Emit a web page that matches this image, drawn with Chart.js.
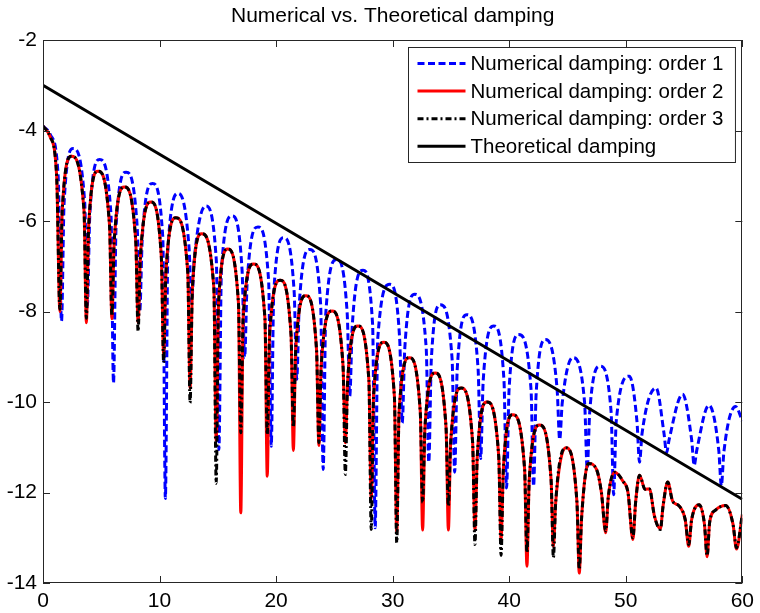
<!DOCTYPE html>
<html>
<head>
<meta charset="utf-8">
<title>Numerical vs. Theoretical damping</title>
<script src="https://cdn.jsdelivr.net/npm/chart.js@4.4.1/dist/chart.umd.min.js"></script>
<style>
  html, body { margin: 0; padding: 0; background: #fff; }
  #wrap { width: 760px; height: 613px; }
</style>
</head>
<body>
<div id="wrap"><canvas id="dampingChart" width="760" height="613"></canvas></div>
<script>
const chartTitle = 'Numerical vs. Theoretical damping';

const xTicks = [0, 10, 20, 30, 40, 50, 60];
const yTicks = [-14, -12, -10, -8, -6, -4, -2];

// order 1 (blue dashed): peak, knee, cusp, knee, peak ...
const order1X = [0, 0.65, 1.30, 1.59, 1.81, 2.59,
  3.58, 3.80, 4.02, 4.86, 5.83, 6.05, 6.27, 7.13, 8.08, 8.30, 8.52, 9.40,
  10.28, 10.50, 10.72, 11.62, 12.53, 12.75, 12.97, 13.95, 14.87, 15.09, 15.31, 16.22,
  17.08, 17.30, 17.52, 18.44, 19.36, 19.58, 19.80, 20.65, 21.55, 21.77, 21.99, 22.90,
  23.82, 24.04, 24.26, 25.20, 26.10, 26.32, 26.54, 27.45, 28.28, 28.50, 28.72, 29.75,
  30.60, 30.82, 31.04, 31.90, 32.88, 33.10, 33.32, 34.10, 35.10, 35.32, 35.54, 36.37,
  37.33, 37.55, 37.77, 38.68, 39.55, 39.77, 39.99, 40.81, 41.87, 42.09, 42.31, 43.12,
  44.11, 44.33, 44.55, 45.45, 46.47, 46.69, 46.91, 47.80, 48.74, 48.96, 49.18, 50.30,
  50.96, 51.18, 51.40, 52.60, 53.28, 53.50, 53.72, 54.87, 55.65, 55.87, 56.09, 57.14,
  57.98, 58.20, 58.42, 59.42, 60];
const order1Y = [-3.90, -4.10, -5.00, -8.21, -5.60, -4.40,
  -5.60, -7.90, -5.84, -4.64, -5.84, -9.58, -6.12, -4.92, -6.12, -8.00, -6.37, -5.17,
  -6.37, -12.13, -6.59, -5.39, -6.59, -7.80, -6.87, -5.67, -6.87, -11.05, -7.09, -5.89,
  -7.09, -9.02, -7.33, -6.13, -7.33, -10.98, -7.57, -6.37, -7.57, -9.50, -7.83, -6.63,
  -7.83, -11.49, -8.05, -6.85, -8.05, -9.87, -8.29, -7.09, -8.29, -12.78, -8.60, -7.40,
  -8.60, -10.46, -8.82, -7.62, -8.82, -11.33, -9.05, -7.85, -9.05, -11.55, -9.27, -8.07,
  -9.27, -11.25, -9.52, -8.32, -9.52, -11.90, -9.71, -8.51, -9.71, -11.86, -9.82, -8.62,
  -9.72, -10.83, -10.02, -9.02, -10.02, -11.48, -10.21, -9.21, -10.21, -12.05, -10.43, -9.43,
  -10.43, -11.33, -10.69, -9.69, -10.69, -11.12, -10.83, -9.83, -10.83, -11.40, -11.07, -10.07,
  -11.07, -11.85, -11.10, -10.10, -10.42];

// orders 2 and 3 share the same abscissae (they overlap except at the cusps)
const order23X = [0, 0.60, 1.17, 1.45, 1.65, 2.44,
  3.52, 3.72, 3.92, 4.72, 5.71, 5.91, 6.11, 6.99, 7.96, 8.16, 8.36, 9.26,
  10.15, 10.35, 10.55, 11.40, 12.42, 12.62, 12.82, 13.61, 14.66, 14.86, 15.06, 15.85,
  16.77, 16.97, 17.17, 18.07, 19.04, 19.24, 19.44, 20.35, 21.28, 21.48, 21.68, 22.55,
  23.47, 23.67, 23.87, 24.80, 25.74, 25.94, 26.14, 27.02, 27.96, 28.16, 28.36, 29.24,
  30.15, 30.35, 30.55, 31.43, 32.37, 32.57, 32.77, 33.65, 34.58, 34.78, 34.98, 35.88,
  36.86, 37.06, 37.26, 38.10, 39.10, 39.30, 39.50, 40.30, 41.32, 41.52, 41.72, 42.60,
  43.59, 43.79, 43.99, 44.85, 45.81, 46.01, 46.21, 46.80,
  47.49, 47.91, 48.28, 48.50, 49.05, 49.76, 50.19, 50.61, 50.85, 51.18, 51.66, 52.03,
  52.46, 52.97, 53.20, 53.60, 54.02, 54.59, 55.10, 55.40, 55.65, 56.29, 56.75, 56.98,
  57.20, 57.70, 58.57, 59.20, 59.50, 60];
const order2Y = [-3.90, -4.13, -5.00, -8.00, -5.77, -4.57,
  -5.77, -8.25, -6.10, -4.90, -6.10, -8.16, -6.45, -5.25, -6.45, -8.25, -6.78, -5.58,
  -6.78, -8.95, -7.13, -5.93, -7.13, -9.70, -7.48, -6.28, -7.48, -10.85, -7.82, -6.62,
  -7.82, -12.45, -8.15, -6.95, -8.15, -11.64, -8.51, -7.31, -8.51, -11.07, -8.85, -7.65,
  -8.85, -10.96, -9.19, -7.99, -9.19, -10.90, -9.52, -8.32, -9.52, -12.15, -9.88, -8.68,
  -9.88, -12.90, -10.22, -9.02, -10.22, -12.83, -10.56, -9.36, -10.56, -12.83, -10.89, -9.69,
  -10.89, -12.83, -11.20, -10.00, -11.20, -13.04, -11.48, -10.28, -11.48, -13.63, -11.71, -10.51,
  -11.71, -13.19, -12.21, -11.01, -12.21, -13.78, -12.56, -11.36,
  -11.49, -12.00, -12.89, -12.10, -11.55, -11.75, -12.00, -13.04, -12.20, -11.62, -11.93, -11.92,
  -12.52, -12.80, -12.30, -11.77, -12.19, -12.30, -12.60, -13.19, -12.60, -12.27, -12.70, -13.42,
  -12.65, -12.39, -12.29, -12.70, -13.25, -12.49];
const order3Y = [-3.90, -4.13, -5.00, -7.95, -5.77, -4.57,
  -5.77, -8.15, -6.10, -4.90, -6.10, -8.10, -6.45, -5.25, -6.45, -8.44, -6.78, -5.58,
  -6.78, -9.13, -7.13, -5.93, -7.13, -10.02, -7.48, -6.28, -7.48, -11.80, -7.82, -6.62,
  -7.82, -10.68, -8.15, -6.95, -8.15, -10.72, -8.51, -7.31, -8.51, -10.56, -8.85, -7.65,
  -8.85, -10.90, -9.19, -7.99, -9.19, -11.60, -9.52, -8.32, -9.52, -12.82, -9.88, -8.68,
  -9.88, -13.11, -10.22, -9.02, -10.22, -12.22, -10.56, -9.36, -10.56, -12.30, -10.89, -9.69,
  -10.89, -13.15, -11.20, -10.00, -11.20, -13.39, -11.48, -10.28, -11.48, -13.33, -11.71, -10.51,
  -11.71, -13.44, -12.21, -11.01, -12.21, -13.70, -12.56, -11.36,
  -11.49, -12.00, -12.85, -12.10, -11.55, -11.75, -12.00, -13.00, -12.20, -11.62, -11.93, -11.92,
  -12.52, -12.82, -12.30, -11.77, -12.19, -12.30, -12.60, -13.15, -12.60, -12.27, -12.70, -13.40,
  -12.65, -12.39, -12.29, -12.70, -13.22, -12.49];

const theoryX = [0, 60];
const theoryY = [-3.0, -12.15];

const FONT = '"Liberation Sans", Arial, Helvetica, sans-serif';

function toPoints(xs, ys) {
    return xs.map((x, i) => ({ x: x, y: ys[i] }));
}

// MATLAB-ish box, inward ticks, title and legend
const matlabFrame = {
    id: 'matlabFrame',
    afterDraw(chart) {
        const ctx = chart.ctx;
        const a = chart.chartArea;
        const xs = chart.scales.x;
        const ys = chart.scales.y;
        ctx.save();

        ctx.strokeStyle = '#262626';
        ctx.lineWidth = 1;
        ctx.strokeRect(Math.round(a.left) + 0.5, Math.round(a.top) + 0.5,
            Math.round(a.right - a.left) - 1, Math.round(a.bottom - a.top) - 1);
        ctx.beginPath();
        xTicks.forEach(v => {
            const px = Math.round(xs.getPixelForValue(v)) + 0.5;
            ctx.moveTo(px, a.bottom); ctx.lineTo(px, a.bottom - 7);
            ctx.moveTo(px, a.top); ctx.lineTo(px, a.top + 7);
        });
        yTicks.forEach(v => {
            const py = Math.round(ys.getPixelForValue(v)) + 0.5;
            ctx.moveTo(a.left, py); ctx.lineTo(a.left + 7, py);
            ctx.moveTo(a.right, py); ctx.lineTo(a.right - 7, py);
        });
        ctx.stroke();

        // title
        ctx.fillStyle = '#000';
        ctx.font = '21px ' + FONT;
        ctx.textAlign = 'center';
        ctx.textBaseline = 'middle';
        ctx.fillText(chartTitle, (a.left + a.right) / 2, 16);

        // legend box
        const sets = chart.data.datasets;
        ctx.font = '20.5px ' + FONT;
        const textW = Math.max(...sets.map(d => ctx.measureText(d.label).width));
        const boxW = 9 + 48 + 5 + textW + 12;
        const boxH = 115;
        const bx = Math.round(a.right - 7 - boxW) + 0.5;
        const by = Math.round(a.top + 7) + 0.5;
        ctx.fillStyle = '#fff';
        ctx.fillRect(bx, by, boxW, boxH);
        ctx.strokeStyle = '#262626';
        ctx.lineWidth = 1;
        ctx.strokeRect(bx, by, boxW, boxH);

        sets.forEach((d, i) => {
            const cy = by + 16 + i * 27.6;
            ctx.save();
            ctx.strokeStyle = d.borderColor;
            ctx.lineWidth = d.borderWidth;
            ctx.setLineDash(d.borderDash || []);
            ctx.beginPath();
            ctx.moveTo(bx + 9, cy);
            ctx.lineTo(bx + 57, cy);
            ctx.stroke();
            ctx.restore();
            ctx.fillStyle = '#000';
            ctx.textAlign = 'left';
            ctx.textBaseline = 'middle';
            ctx.fillText(d.label, bx + 62, cy + 1);
        });

        ctx.restore();
    }
};

const ctx = document.getElementById('dampingChart').getContext('2d');
new Chart(ctx, {
    type: 'line',
    data: {
        datasets: [{
            label: 'Numerical damping: order 1',
            data: toPoints(order1X, order1Y),
            borderColor: '#0000ff',
            borderWidth: 3,
            borderDash: [7, 3.5],
            order: 4
        }, {
            label: 'Numerical damping: order 2',
            data: toPoints(order23X, order2Y),
            borderColor: '#ff0000',
            borderWidth: 3,
            order: 3
        }, {
            label: 'Numerical damping: order 3',
            data: toPoints(order23X, order3Y),
            borderColor: '#000000',
            borderWidth: 3,
            borderDash: [6, 3, 2, 3],
            order: 2
        }, {
            label: 'Theoretical damping',
            data: toPoints(theoryX, theoryY),
            borderColor: '#000000',
            borderWidth: 3,
            order: 1
        }]
    },
    options: {
        responsive: false,
        animation: false,
        devicePixelRatio: 1,
        layout: { padding: { top: 40, right: 13, left: 0, bottom: 0 } },
        elements: {
            point: { radius: 0, hoverRadius: 0 },
            line: { cubicInterpolationMode: 'monotone', fill: false, borderCapStyle: 'butt', borderJoinStyle: 'round' }
        },
        plugins: {
            legend: { display: false },
            title: { display: false },
            tooltip: { enabled: false }
        },
        scales: {
            x: {
                type: 'linear',
                min: 0,
                max: 60,
                afterFit: (scale) => { scale.height = 30; },
                afterBuildTicks: (scale) => { scale.ticks = xTicks.map(v => ({ value: v })); },
                grid: { display: false, drawTicks: false },
                border: { display: false },
                ticks: { color: '#000', padding: 6, maxRotation: 0, font: { family: FONT, size: 21 } }
            },
            y: {
                type: 'linear',
                min: -14,
                max: -2,
                afterFit: (scale) => { scale.width = 43; },
                afterBuildTicks: (scale) => { scale.ticks = yTicks.map(v => ({ value: v })); },
                grid: { display: false, drawTicks: false },
                border: { display: false },
                ticks: { color: '#000', padding: 6, font: { family: FONT, size: 21 } }
            }
        }
    },
    plugins: [matlabFrame]
});
</script>
</body>
</html>
